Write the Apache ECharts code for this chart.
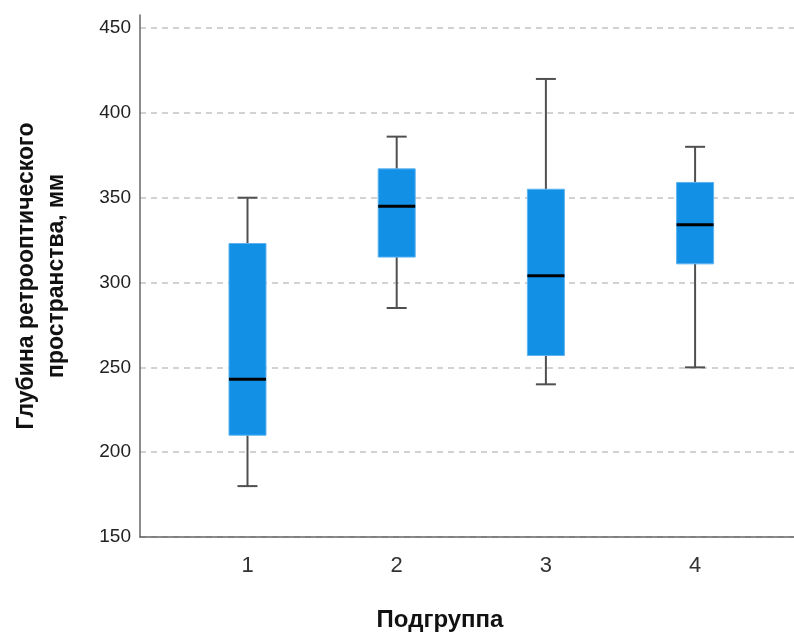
<!DOCTYPE html>
<html>
<head>
<meta charset="utf-8">
<script src="https://cdn.jsdelivr.net/npm/echarts@6/dist/echarts.min.js"></script>
<style>html,body{margin:0;padding:0;background:#fff}#c{width:794px;height:633px}</style>
</head>
<body>
<div id="c"></div>
<script>
const categories = [1, 2, 3, 4];
const mins    = [180, 285, 240, 250];
const q1s     = [210, 315, 257, 311];
const medians = [243, 345, 304, 334];
const q3s     = [323, 367, 355, 359];
const maxs    = [350, 386, 420, 380];
const yTicks = [150, 200, 250, 300, 350, 400, 450];

const data = categories.map((c, i) => [c, mins[i], q1s[i], medians[i], q3s[i], maxs[i]]);

function renderItem(params, api) {
  const x = api.value(0);
  const pMin = api.coord([x, api.value(1)]);
  const pQ1 = api.coord([x, api.value(2)]);
  const pMed = api.coord([x, api.value(3)]);
  const pQ3 = api.coord([x, api.value(4)]);
  const pMax = api.coord([x, api.value(5)]);
  const bw = 37, cw = 20;
  const cx = pMed[0];
  const wStyle = { stroke: '#505050', lineWidth: 2 };
  return {
    type: 'group',
    children: [
      { type: 'line', shape: { x1: cx, y1: pMax[1], x2: cx, y2: pQ3[1] }, style: wStyle },
      { type: 'line', shape: { x1: cx, y1: pQ1[1], x2: cx, y2: pMin[1] }, style: wStyle },
      { type: 'line', shape: { x1: cx - cw / 2, y1: pMax[1], x2: cx + cw / 2, y2: pMax[1] }, style: wStyle },
      { type: 'line', shape: { x1: cx - cw / 2, y1: pMin[1], x2: cx + cw / 2, y2: pMin[1] }, style: wStyle },
      { type: 'rect', shape: { x: cx - bw / 2, y: pQ3[1], width: bw, height: pQ1[1] - pQ3[1] },
        style: { fill: '#1290e6', stroke: '#5db3f0', lineWidth: 1 } },
      { type: 'line', shape: { x1: cx - bw / 2, y1: pMed[1], x2: cx + bw / 2, y2: pMed[1] },
        style: { stroke: '#000', lineWidth: 3 } }
    ]
  };
}

const chart = echarts.init(document.getElementById('c'), null, { renderer: 'canvas' });
chart.setOption({
  animation: false,
  backgroundColor: '#fff',
  textStyle: { fontFamily: 'Liberation Sans, Arial, sans-serif' },
  grid: { left: 140, right: 0, top: 15, bottom: 96, outerBoundsMode: 'none', containLabel: false },
  xAxis: {
    type: 'value',
    min: 0.2795,
    max: 4.663,
    name: 'Подгруппа',
    nameLocation: 'middle',
    nameGap: 71,
    nameTextStyle: { fontSize: 24, fontWeight: 'bold', color: '#111', padding: [0, 54, 0, 0] },
    axisLine: { show: true, onZero: false, lineStyle: { color: '#666', width: 1.5 } },
    axisTick: { show: false },
    splitLine: { show: false },
    axisLabel: { customValues: categories, fontSize: 22, color: '#333', margin: 18 }
  },
  yAxis: {
    type: 'value',
    min: 150,
    max: 457.7,
    name: 'Глубина ретрооптического\nпространства, мм',
    nameLocation: 'middle',
    nameRotate: 90,
    nameGap: 68,
    nameTextStyle: { fontSize: 23, fontWeight: 'bold', color: '#111', lineHeight: 30 },
    axisLine: { show: true, lineStyle: { color: '#666', width: 1.5 } },
    axisTick: { show: false, customValues: yTicks },
    axisLabel: { customValues: yTicks, fontSize: 19, color: '#222', margin: 9 },
    splitLine: { show: true, lineStyle: { color: '#c4c4c4', type: [6, 5], width: 1.5 } }
  },
  series: [{
    type: 'custom',
    renderItem: renderItem,
    encode: { x: 0, y: [1, 2, 3, 4, 5] },
    data: data
  }]
});
</script>
</body>
</html>
